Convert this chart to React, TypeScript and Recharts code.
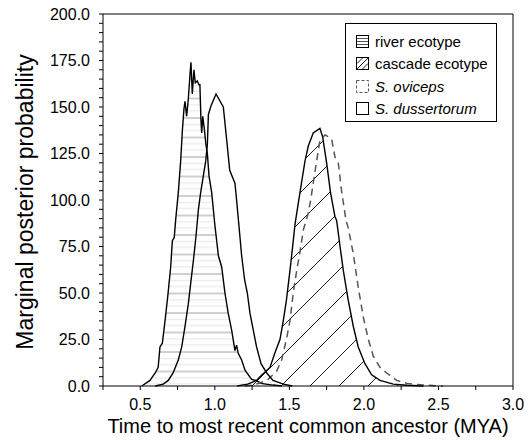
import {
  Area,
  ComposedChart,
  Label,
  Legend,
  Line,
  ReferenceLine,
  XAxis,
  YAxis,
} from "recharts";

const FONT = '"Liberation Sans", Arial, Helvetica, sans-serif';

// river ecotype (horizontal hatch)
const riverX = [
  0.51, 0.565, 0.6, 0.62, 0.632, 0.648, 0.666, 0.684, 0.704, 0.715, 0.728,
  0.737, 0.755, 0.771, 0.782, 0.793, 0.8, 0.811, 0.822, 0.834, 0.84, 0.849,
  0.86, 0.869, 0.882, 0.894, 0.9, 0.907, 0.912, 0.919, 0.93, 0.94, 0.95,
  0.961, 0.979, 0.99, 1.001, 1.017, 1.024, 1.046, 1.068, 1.09, 1.113, 1.135,
  1.146, 1.157, 1.18, 1.202, 1.225, 1.247, 1.28, 1.31, 1.39, 1.45,
];
const riverY = [
  0, 3, 7, 10, 21, 23, 35, 48, 64, 78, 80, 89, 104, 121, 137, 149, 153, 145,
  154, 168, 174, 157, 170, 163, 164, 162, 162, 143, 136, 145, 138, 130, 125,
  113, 104, 95, 86, 75, 70, 64, 50, 39, 30, 19, 22, 17.6, 14, 8.6, 6, 3.6,
  2.9, 1.4, 0.5, 0,
];

// cascade ecotype (diagonal hatch)
const cascadeX = [
  1.15, 1.22, 1.28, 1.303, 1.37, 1.404, 1.437, 1.459, 1.48, 1.504, 1.522,
  1.538, 1.571, 1.605, 1.627, 1.66, 1.705, 1.723, 1.75, 1.776, 1.806, 1.817,
  1.84, 1.862, 1.895, 1.929, 1.962, 2.007, 2.052, 2.108, 2.197, 2.29, 2.4,
];
const cascadeY = [
  0, 1, 3, 5, 10, 18, 25, 35, 46, 62, 75, 87, 104, 121, 129, 136, 138.5, 134,
  120, 104, 91, 89, 75, 62, 46, 32, 21, 12, 6, 3, 1, 0.4, 0,
];

// S. oviceps (dashed)
const ovicepsX = [
  1.2, 1.258, 1.35, 1.415, 1.448, 1.48, 1.504, 1.526, 1.549, 1.571, 1.594,
  1.627, 1.643, 1.66, 1.683, 1.705, 1.739, 1.761, 1.783, 1.806, 1.828, 1.85,
  1.88, 1.895, 1.929, 1.962, 1.996, 2.03, 2.063, 2.108, 2.153, 2.22, 2.29,
  2.4, 2.53,
];
const ovicepsY = [
  0, 0.5, 3, 8, 14, 25, 35, 50, 62, 72, 84, 93, 100, 109, 121, 132, 135, 134,
  133, 123, 120, 105, 89, 85, 71, 53, 37, 25, 16, 10, 7, 3, 1.4, 0.5, 0,
];

// S. dussertorum (plain outline)
const dussertorumX = [
  0.6, 0.654, 0.688, 0.72, 0.755, 0.778, 0.8, 0.822, 0.838, 0.857, 0.873,
  0.89, 0.905, 0.923, 0.939, 0.95, 0.957, 0.976, 1.008, 1.057, 1.08, 1.1,
  1.135, 1.146, 1.162, 1.18, 1.2, 1.218, 1.236, 1.258, 1.28, 1.31, 1.348,
  1.39, 1.46, 1.52,
];
const dussertorumY = [
  0, 1, 3, 7, 14, 21, 32, 44, 55, 68, 80, 95, 104, 113, 121, 130, 146, 151,
  157, 150, 132, 116, 109, 100, 86, 70, 57, 50, 39, 30, 21, 12, 7, 3, 1, 0,
];

const xTicks = [
  0.25, 0.5, 0.75, 1.0, 1.25, 1.5, 1.75, 2.0, 2.25, 2.5, 2.75, 3.0,
];
const yTicks = [
  0, 5, 10, 15, 20, 25, 30, 35, 40, 45, 50, 55, 60, 65, 70, 75, 80, 85, 90,
  95, 100, 105, 110, 115, 120, 125, 130, 135, 140, 145, 150, 155, 160, 165,
  170, 175, 180, 185, 190, 195, 200,
];

const legendLabels = [
  "river ecotype",
  "cascade ecotype",
  "S. oviceps",
  "S. dussertorum",
];

type Key = "river" | "cascade" | "oviceps" | "dussertorum";
type Row = { x: number } & Partial<Record<Key, number>>;

function buildTable(): Row[] {
  const rows = new Map<number, Row>();
  const add = (xs: number[], ys: number[], key: Key) => {
    xs.forEach((x, i) => {
      const r = rows.get(x) ?? { x };
      r[key] = ys[i];
      rows.set(x, r);
    });
  };
  add(riverX, riverY, "river");
  add(cascadeX, cascadeY, "cascade");
  add(ovicepsX, ovicepsY, "oviceps");
  add(dussertorumX, dussertorumY, "dussertorum");
  return [...rows.values()].sort((a, b) => a.x - b.x);
}

const table = buildTable();

function LegendIcon({ index }: { index: number }) {
  if (index === 0) {
    return (
      <svg width={13} height={13}>
        <rect x={0.5} y={0.5} width={12} height={12} fill="#fff" stroke="#000" />
        <path d="M1,3.5H12M1,6.5H12M1,9.5H12" stroke="#555" strokeWidth={1} />
      </svg>
    );
  }
  if (index === 1) {
    return (
      <svg width={13} height={13}>
        <rect x={0.5} y={0.5} width={12} height={12} fill="#fff" stroke="#000" />
        <path
          d="M1,12L12,1M1,6.5L6.5,1M6.5,12L12,6.5"
          stroke="#000"
          strokeWidth={0.9}
        />
      </svg>
    );
  }
  if (index === 2) {
    return (
      <svg width={13} height={13}>
        <rect
          x={0.5}
          y={0.5}
          width={12}
          height={12}
          fill="#fff"
          stroke="#555"
          strokeDasharray="3 2"
        />
      </svg>
    );
  }
  return (
    <svg width={13} height={13}>
      <rect x={0.5} y={0.5} width={12} height={12} fill="#fff" stroke="#000" />
    </svg>
  );
}

function LegendBox() {
  return (
    <div
      style={{
        width: 152,
        boxSizing: "border-box",
        border: "1px solid #000",
        background: "#fff",
        padding: "6px 6px 1px 10px",
        fontFamily: FONT,
        fontSize: 15,
        color: "#000",
        lineHeight: 1,
      }}
    >
      {legendLabels.map((label, i) => (
        <div
          key={label}
          style={{ display: "flex", alignItems: "center", height: 22.5 }}
        >
          <LegendIcon index={i} />
          <span
            style={{ marginLeft: 6, fontStyle: i >= 2 ? "italic" : "normal" }}
          >
            {label}
          </span>
        </div>
      ))}
    </div>
  );
}

export default function App() {
  const tickStyle = { fill: "#000", fontSize: 16, fontFamily: FONT };
  return (
    <div
      style={{
        position: "absolute",
        left: 0,
        top: 0,
        width: 530,
        height: 440,
        background: "#fff",
      }}
    >
      <ComposedChart
        width={530}
        height={440}
        data={table}
        margin={{ top: 14, right: 17, bottom: 0, left: 0 }}
      >
        <defs>
          <pattern
            id="riverHatch"
            patternUnits="userSpaceOnUse"
            width={10}
            height={19.5}
          >
            <line x1={0} x2={10} y1={1} y2={1} stroke="#a0a0a0" strokeWidth={1} />
            <line x1={0} x2={10} y1={7.5} y2={7.5} stroke="#e4e4e4" strokeWidth={1} />
            <line x1={0} x2={10} y1={13.5} y2={13.5} stroke="#e4e4e4" strokeWidth={1} />
          </pattern>
          <pattern
            id="cascadeHatch"
            patternUnits="userSpaceOnUse"
            width={29}
            height={29}
          >
            <path
              d="M0,29L29,0M-2,2L2,-2M27,31L31,27"
              stroke="#000"
              strokeWidth={0.9}
            />
          </pattern>
        </defs>
        <XAxis
          type="number"
          dataKey="x"
          domain={[0.25, 3]}
          ticks={xTicks}
          interval={0}
          tickFormatter={(v: number) => (v % 0.5 === 0 ? v.toFixed(1) : "")}
          tickSize={4}
          tickMargin={9}
          height={54}
          axisLine={{ stroke: "#000" }}
          tickLine={{ stroke: "#000" }}
          tick={tickStyle}
        >
          <Label
            content={() => (
              <text
                x={308}
                y={433}
                textAnchor="middle"
                fontSize={20}
                fontFamily={FONT}
                fill="#000"
              >
                Time to most recent common ancestor (MYA)
              </text>
            )}
          />
        </XAxis>
        <YAxis
          type="number"
          domain={[0, 200]}
          ticks={yTicks}
          interval={0}
          tickFormatter={(v: number) => (v % 25 === 0 ? v.toFixed(1) : "")}
          tickSize={4}
          tickMargin={9}
          width={103}
          axisLine={{ stroke: "#000" }}
          tickLine={{ stroke: "#000" }}
          tick={tickStyle}
        >
          <Label
            content={() => (
              <text
                x={0}
                y={0}
                transform="translate(33,202) rotate(-90)"
                textAnchor="middle"
                fontSize={23}
                fontFamily={FONT}
                fill="#000"
              >
                Marginal posterior probability
              </text>
            )}
          />
        </YAxis>
        <ReferenceLine y={200} stroke="#000" strokeWidth={1} />
        <ReferenceLine x={3} stroke="#000" strokeWidth={1} />
        <Area
          type="linear"
          dataKey="river"
          connectNulls
          fill="url(#riverHatch)"
          fillOpacity={1}
          stroke="#000"
          strokeWidth={1.4}
          dot={false}
          activeDot={false}
          isAnimationActive={false}
        />
        <Area
          type="linear"
          dataKey="cascade"
          connectNulls
          fill="url(#cascadeHatch)"
          fillOpacity={1}
          stroke="#000"
          strokeWidth={1.4}
          dot={false}
          activeDot={false}
          isAnimationActive={false}
        />
        <Line
          type="linear"
          dataKey="oviceps"
          connectNulls
          stroke="#555"
          strokeWidth={1.5}
          strokeDasharray="7 5"
          dot={false}
          activeDot={false}
          isAnimationActive={false}
        />
        <Line
          type="linear"
          dataKey="dussertorum"
          connectNulls
          stroke="#000"
          strokeWidth={1.4}
          dot={false}
          activeDot={false}
          isAnimationActive={false}
        />
        <Legend
          layout="horizontal"
          verticalAlign="middle"
          align="center"
          wrapperStyle={{ left: 345, top: 23, width: "auto" }}
          content={() => <LegendBox />}
        />
      </ComposedChart>
    </div>
  );
}
